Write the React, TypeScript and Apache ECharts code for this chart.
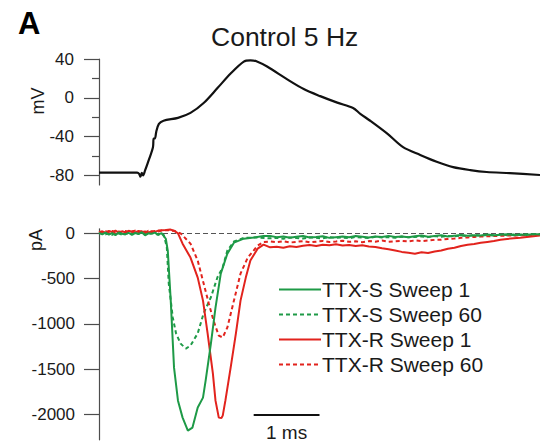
import React, { useEffect, useRef } from "react";
import * as echarts from "echarts";

const FONT = "'Liberation Sans', Arial, Helvetica, sans-serif";

// time in ms
const vmTime = [0, 0.58, 0.61, 0.63, 0.65, 0.67, 0.7, 0.74, 0.82, 0.83, 0.85, 0.87, 0.91, 0.98, 1.2, 1.39, 1.59, 1.8, 2.0, 2.2, 2.3, 2.4, 2.56, 2.86, 3.11, 3.36, 3.62, 3.86, 3.97, 4.12, 4.38, 4.62, 4.88, 5.13, 5.38, 5.64, 5.89, 6.24, 6.7];
const vmValue = [-77.3, -77.3, -78.5, -81.5, -77.5, -80, -75, -67.5, -51, -42, -42, -35, -27, -23.7, -20.7, -15.6, -5.4, 10, 25, 37.3, 38.5, 37.5, 32, 19, 9, 1.7, -5, -10.5, -16.6, -23.7, -37, -51, -59, -66, -71.5, -74.6, -76.6, -77.8, -79.7];

const baseTime = [0, 0.05, 0.1, 0.15, 0.2, 0.25, 0.3, 0.35, 0.4, 0.45, 0.5, 0.55, 0.6, 0.65, 0.7, 0.75, 0.8, 0.85, 0.9, 0.95];
const tailTime = [2.6, 2.7, 2.8, 2.9, 3.0, 3.1, 3.2, 3.3, 3.4, 3.5, 3.6, 3.7, 3.8, 3.9, 4.0, 4.1, 4.2, 4.3, 4.4, 4.5, 4.6, 4.7, 4.8, 4.9, 5.0, 5.1, 5.2, 5.3, 5.4, 5.5, 5.6, 5.7, 5.8, 5.9, 6.0, 6.1, 6.2, 6.3, 6.4, 6.5, 6.6, 6.7];

// TTX-S Sweep 1
const s1Base = [5, -10, 8, -15, 2, -20, 10, -5, -12, 6, -18, 4, -8, 12, -22, 0, -6, 8, -14, 3];
const s1PeakTime = [1.015, 1.045, 1.09, 1.14, 1.2, 1.27, 1.35, 1.42, 1.5, 1.58, 1.62, 1.7, 1.77, 1.85, 1.95, 2.05, 2.2, 2.35, 2.5];
const s1PeakValue = [-60, -191, -743, -1483, -1848, -2035, -2178, -2145, -1924, -1814, -1626, -1218, -820, -445, -224, -103, -59, -47, -30];
const s1Tail = [-30, -42, -35, -48, -38, -30, -45, -40, -33, -50, -42, -36, -44, -30, -38, -46, -35, -41, -28, -40, -36, -44, -32, -25, -38, -30, -22, -34, -26, -18, -28, -20, -24, -14, -22, -16, -10, -20, -12, -18, -8, -14];

// TTX-S Sweep 60
const s60Base = [-4, 8, -12, 4, -16, 6, -2, -14, 10, -8, 2, -18, 6, -10, 4, -12, 8, -4, -16, 0];
const s60PeakTime = [0.985, 1.03, 1.06, 1.12, 1.17, 1.24, 1.32, 1.39, 1.5, 1.59, 1.7, 1.8, 1.88, 1.95, 2.05, 2.2, 2.4];
const s60PeakValue = [-20, -150, -555, -926, -1104, -1218, -1273, -1240, -1104, -883, -706, -485, -375, -191, -90, -50, -45];
const s60Tail = [-55, -48, -60, -45, -52, -58, -44, -50, -56, -42, -50, -46, -54, -40, -48, -52, -38, -46, -42, -50, -36, -44, -40, -34, -42, -30, -38, -28, -34, -24, -30, -20, -26, -18, -24, -14, -20, -12, -18, -10, -16, -8];

// TTX-R Sweep 1
const r1Base = [12, 22, 6, 26, 14, 30, 8, 22, 12, 28, 18, 10, 26, 14, 20, 8, 24, 16, 30, 35];
const r1PeakTime = [1.02, 1.08, 1.14, 1.2, 1.27, 1.39, 1.5, 1.58, 1.65, 1.73, 1.77, 1.82, 1.86, 1.88, 1.92, 2.0, 2.08, 2.15, 2.23, 2.3, 2.41, 2.5];
const r1PeakValue = [38, 42, 30, 0, -114, -268, -489, -743, -1104, -1546, -1848, -2035, -2040, -2013, -1848, -1483, -1104, -743, -489, -301, -169, -125];
const r1Tail = [-155, -148, -160, -142, -150, -138, -130, -140, -125, -132, -120, -135, -128, -140, -132, -145, -150, -165, -175, -190, -205, -215, -225, -210, -218, -200, -190, -170, -160, -140, -125, -118, -105, -95, -85, -70, -62, -55, -48, -40, -32, -25];

// TTX-R Sweep 60
const r60Base = [18, 8, 24, 12, 28, 6, 20, 16, 26, 10, 22, 30, 14, 24, 8, 28, 18, 26, 20, 30];
const r60PeakTime = [1.05, 1.15, 1.24, 1.39, 1.5, 1.59, 1.67, 1.74, 1.82, 1.88, 1.95, 2.05, 2.15, 2.26, 2.41, 2.5];
const r60PeakValue = [35, 25, 0, -114, -301, -555, -780, -964, -1130, -1150, -1040, -743, -445, -268, -136, -95];
const r60Tail = [-90, -98, -88, -102, -94, -86, -100, -92, -84, -96, -90, -82, -94, -88, -98, -86, -92, -80, -94, -88, -84, -90, -78, -86, -80, -72, -70, -62, -58, -50, -46, -40, -36, -32, -30, -28, -24, -26, -20, -22, -18, -16];

const seriesNames = ["TTX-S Sweep 1", "TTX-S Sweep 60", "TTX-R Sweep 1", "TTX-R Sweep 60"];
const mvTicks = [-80, -40, 0, 40];
const mvMinorTicks = [-60, -20, 20];
const paTicks = [-2000, -1500, -1000, -500, 0];
const scaleBar = { start: 2.35, end: 3.35, level: -2000, label: "1 ms" };

const zip = (t: number[], v: number[]) => t.map((x, i) => [x, v[i]]);
const trace = (base: number[], pt: number[], pv: number[], tail: number[]) => [
  ...zip(baseTime, base),
  ...zip(pt, pv),
  ...zip(tailTime, tail),
];

const GREEN = "#1e9a47";
const RED = "#e2231d";
const AXIS = "#4d4d4d";
const TEXT = "#1a1a1a";

export default function App() {
  const ref = useRef<HTMLDivElement>(null);
  useEffect(() => {
    const chart = echarts.init(ref.current!, null, { renderer: "svg" });
    const fmt = (v: number) => String(v);
    const option: any = {
      animation: false,
      backgroundColor: "#ffffff",
      textStyle: { fontFamily: FONT },
      title: [
        { text: "A", left: 13, top: 3, textStyle: { fontSize: 31, fontWeight: 900, color: "#000", fontFamily: FONT } },
        { text: "Control 5 Hz", left: 206, top: 18, textStyle: { fontSize: 26.5, fontWeight: "normal", color: TEXT, fontFamily: FONT } },
      ],
      graphic: [
        { type: "text", x: 38, y: 101, rotation: Math.PI / 2, style: { text: "mV", fontSize: 18, fill: TEXT, fontFamily: FONT, textAlign: "center", textVerticalAlign: "middle" } },
        { type: "text", x: 36, y: 240, rotation: Math.PI / 2, style: { text: "pA", fontSize: 18, fill: TEXT, fontFamily: FONT, textAlign: "center", textVerticalAlign: "middle" } },
      ],
      legend: {
        data: seriesNames,
        orient: "vertical",
        left: 278,
        top: 279,
        itemWidth: 42,
        itemHeight: 20,
        itemGap: 4,
        padding: 0,
        itemStyle: { opacity: 0 },
        textStyle: { fontSize: 21, color: TEXT, fontFamily: FONT, padding: [0, 0, 0, -4] },
      },
      grid: [
        { left: 99, right: 0, top: 59, height: 126 },
        { left: 99, right: 0, top: 228.8, height: 211 },
      ],
      xAxis: [
        { gridIndex: 0, type: "value", min: 0, max: 6.7, show: false },
        { gridIndex: 1, type: "value", min: 0, max: 6.7, show: false },
      ],
      yAxis: [
        {
          gridIndex: 0, type: "value", min: -90, max: 40,
          axisLine: { show: true, onZero: false, lineStyle: { color: AXIS, width: 1.2 } },
          axisTick: { show: true, length: 15, customValues: mvTicks, lineStyle: { color: AXIS, width: 1.2 } },
          axisLabel: { customValues: mvTicks, margin: 25, fontSize: 17, color: TEXT, fontFamily: FONT, formatter: fmt },
          splitLine: { show: false },
        },
        {
          gridIndex: 0, type: "value", min: -90, max: 40, position: "left", offset: 0,
          axisLine: { show: false },
          axisTick: { show: true, length: 7, customValues: mvMinorTicks, lineStyle: { color: AXIS, width: 1.2 } },
          axisLabel: { show: false },
          splitLine: { show: false },
        },
        {
          gridIndex: 1, type: "value", min: -2280, max: 50,
          axisLine: { show: true, onZero: false, lineStyle: { color: AXIS, width: 1.2 } },
          axisTick: { show: true, length: 15, customValues: paTicks, lineStyle: { color: AXIS, width: 1.2 } },
          axisLabel: { customValues: paTicks, margin: 24, fontSize: 17, color: TEXT, fontFamily: FONT, formatter: fmt },
          splitLine: { show: false },
        },
      ],
      series: [
        {
          type: "line", name: "Vm", xAxisIndex: 0, yAxisIndex: 0,
          data: zip(vmTime, vmValue), symbol: "none", smooth: 0.3,
          lineStyle: { color: "#111", width: 2.2 },
        },
        {
          type: "line", name: seriesNames[0], xAxisIndex: 1, yAxisIndex: 2,
          data: trace(s1Base, s1PeakTime, s1PeakValue, s1Tail), symbol: "none", color: GREEN,
          lineStyle: { color: GREEN, width: 2 }, z: 4,
          markLine: {
            silent: true, symbol: "none",
            lineStyle: { color: "#111", width: 2, type: "solid" },
            label: { show: true, formatter: scaleBar.label, position: "insideMiddleBottom", distance: 9, fontSize: 19, color: TEXT, fontFamily: FONT },
            data: [[{ coord: [scaleBar.start, scaleBar.level] }, { coord: [scaleBar.end, scaleBar.level] }]],
          },
        },
        {
          type: "line", name: seriesNames[1], xAxisIndex: 1, yAxisIndex: 2,
          data: trace(s60Base, s60PeakTime, s60PeakValue, s60Tail), symbol: "none", color: GREEN,
          lineStyle: { color: GREEN, width: 2, type: [4, 3] }, z: 3,
        },
        {
          type: "line", name: seriesNames[2], xAxisIndex: 1, yAxisIndex: 2,
          data: trace(r1Base, r1PeakTime, r1PeakValue, r1Tail), symbol: "none", color: RED,
          lineStyle: { color: RED, width: 2 }, z: 3,
        },
        {
          type: "line", name: seriesNames[3], xAxisIndex: 1, yAxisIndex: 2,
          data: trace(r60Base, r60PeakTime, r60PeakValue, r60Tail), symbol: "none", color: RED,
          lineStyle: { color: RED, width: 2, type: [4, 3] }, z: 3,
          markLine: {
            silent: true, symbol: "none", z: 1,
            lineStyle: { color: "#555", width: 1.2, type: [5, 3] },
            label: { show: false },
            data: [{ yAxis: 0 }],
          },
        },
      ],
    };
    chart.setOption(option);
    return () => chart.dispose();
  }, []);
  return <div ref={ref} style={{ position: "fixed", left: 0, top: 0, width: 540, height: 445 }} />;
}
